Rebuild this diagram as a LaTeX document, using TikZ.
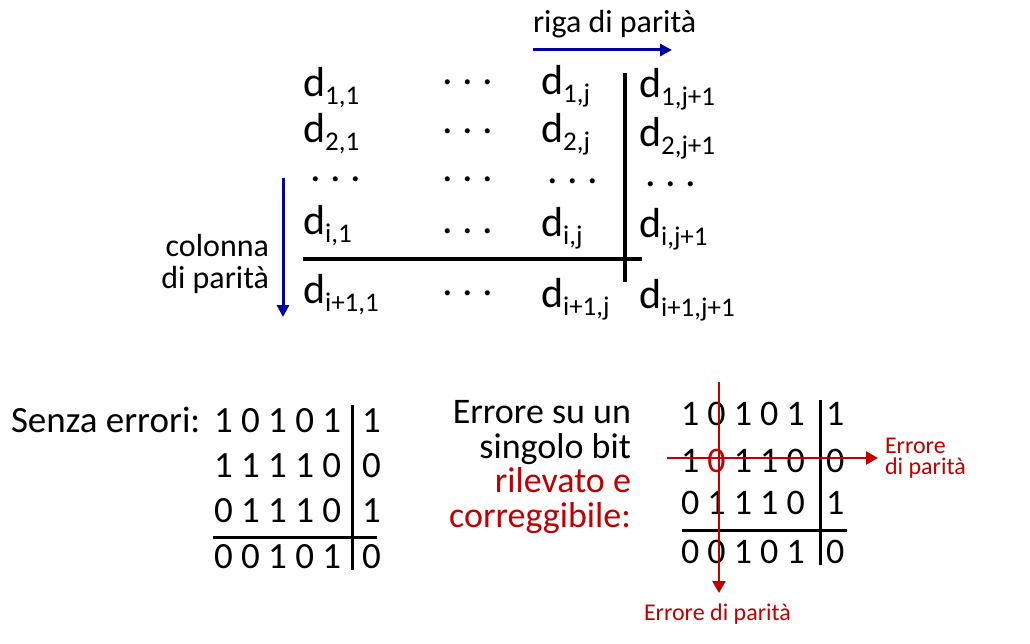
\documentclass[tikz,border=0pt]{standalone}
\usepackage{fontspec}
\setmainfont{Carlito}
\usetikzlibrary{arrows.meta}
\definecolor{pblue}{RGB}{0,0,160}
\definecolor{pred}{RGB}{192,0,0}
\frenchspacing
\newcommand\dsub[1]{d\raisebox{-8pt}{\fontsize{27}{27}\selectfont #1}}
\begin{document}
\begin{tikzpicture}[x=1pt,y=-1pt,
  txt/.style={inner sep=0pt, outer sep=0pt, anchor=base west},
  dtext/.style={txt, font=\fontsize{42}{42}\selectfont},
  lbl/.style={txt, font=\fontsize{32}{32}\selectfont},
  lblR/.style={lbl, anchor=base east},
  bitsL/.style={txt, font=\fontsize{37}{37}\selectfont},
  bitsR/.style={txt, font=\fontsize{36}{36}\selectfont},
  sideR/.style={txt, anchor=base east, font=\fontsize{36}{36}\selectfont},
  errlbl/.style={txt, text=pred, font=\fontsize{24}{24}\selectfont},
  gridline/.style={line width=3.5pt, black},
  bitline/.style={line width=3pt, black},
  bluearrow/.style={draw=pblue, line width=3pt, -{Triangle[length=12pt,width=12pt]}},
  redline/.style={draw=pred, line width=2.5pt},
  redarrow/.style={redline, -{Triangle[length=12pt,width=13pt]}}]
\useasboundingbox (0,0) rectangle (1030,644);

% ---------- top: general scheme ----------
\node[lbl] (riga) at (533,33) {riga di parità};
\coordinate (rigaA) at (533,50);
\coordinate (rigaB) at (672,50);
\draw[bluearrow] (rigaA) -- (rigaB);

\node[lblR] (col1) at (269,257) {colonna};
\node[lblR] (col2) at (269,288) {di parità};
\coordinate (colA) at (283,178);
\coordinate (colB) at (283,317);
\draw[bluearrow] (colA) -- (colB);

% column 1
\node[dtext] (d11) at (303,97) {\dsub{1,1}};
\node[dtext] (d21) at (303,143) {\dsub{2,1}};
\node[dtext] (e31) at (310.5,182) {. . .};
\node[dtext] (di1) at (303,235) {\dsub{i,1}};
\node[dtext] (dk1) at (303,303) {\dsub{i+1,1}};
% column 2 (dots)
\node[dtext] (e12) at (442.5,85) {. . .};
\node[dtext] (e22) at (442.5,134) {. . .};
\node[dtext] (e32) at (442.5,182) {. . .};
\node[dtext] (e42) at (442.5,234) {. . .};
\node[dtext] (e52) at (442.5,295) {. . .};
% column 3
\node[dtext] (d1j) at (541,95) {\dsub{1,j}};
\node[dtext] (d2j) at (541,143) {\dsub{2,j}};
\node[dtext] (e3j) at (547.5,184) {. . .};
\node[dtext] (dij) at (541,237) {\dsub{i,j}};
\node[dtext] (dkj) at (541,307) {\dsub{i+1,j}};
% column 4
\node[dtext] (d1p) at (639,98) {\dsub{1,j+1}};
\node[dtext] (d2p) at (639,147) {\dsub{2,j+1}};
\node[dtext] (e3p) at (645.5,187) {. . .};
\node[dtext] (dip) at (639,238) {\dsub{i,j+1}};
\node[dtext] (dkp) at (639,308) {\dsub{i+1,j+1}};

\coordinate (hA) at (303,259);
\coordinate (hB) at (642,259);
\coordinate (vA) at (625,73);
\coordinate (vB) at (625,282);
\draw[gridline] (hA) -- (hB);
\draw[gridline] (vA) -- (vB);

% ---------- bottom left: no errors ----------
\node[txt, font=\fontsize{37}{37}\selectfont] (senza) at (11,432) {Senza errori:};
\node[bitsL] (l1) at (214,432) {1 0 1 0 1};
\node[bitsL] (l2) at (214,477) {1 1 1 1 0};
\node[bitsL] (l3) at (214,522) {0 1 1 1 0};
\node[bitsL] (l4) at (214,568) {0 0 1 0 1};
\node[bitsL] (l1p) at (362,432) {1};
\node[bitsL] (l2p) at (362,477) {0};
\node[bitsL] (l3p) at (362,522) {1};
\node[bitsL] (l4p) at (362,568) {0};
\coordinate (lvA) at (352,405);
\coordinate (lvB) at (352,570);
\coordinate (lhA) at (213,537);
\coordinate (lhB) at (377,537);
\draw[bitline] (lvA) -- (lvB);
\draw[bitline] (lhA) -- (lhB);

% ---------- bottom right: single bit error ----------
\node[sideR] (s1) at (631,423) {Errore su un};
\node[sideR] (s2) at (631,458) {singolo bit};
\node[sideR, text=pred] (s3) at (631,492) {rilevato e};
\node[sideR, text=pred] (s4) at (631,527) {correggibile:};

\node[bitsR] (r1) at (681,425) {1 0 1 0 1};
\node[bitsR] (r2) at (681,472) {1 \textcolor{pred}{0} 1 1 0};
\node[bitsR] (r3) at (681,514) {0 1 1 1 0};
\node[bitsR] (r4) at (681,563) {0 0 1 0 1};
\node[bitsR] (r1p) at (826,425) {1};
\node[bitsR] (r2p) at (826,472) {0};
\node[bitsR] (r3p) at (826,514) {1};
\node[bitsR] (r4p) at (826,563) {0};
\coordinate (rvA) at (820,400);
\coordinate (rvB) at (820,565);
\coordinate (rhA) at (682,530);
\coordinate (rhB) at (847,530);
\draw[bitline] (rvA) -- (rvB);
\draw[bitline] (rhA) -- (rhB);

\coordinate (redvA) at (719,382);
\coordinate (redvB) at (719,593);
\coordinate (redhA) at (667,458);
\coordinate (redhB) at (878,458);
\draw[redarrow] (redvA) -- (redvB);
\draw[redarrow] (redhA) -- (redhB);

\node[errlbl] (eRow1) at (885,453) {Errore};
\node[errlbl] (eRow2) at (885,474) {di parità};
\node[errlbl] (eCol) at (644,620) {Errore di parità};
\end{tikzpicture}
\end{document}
